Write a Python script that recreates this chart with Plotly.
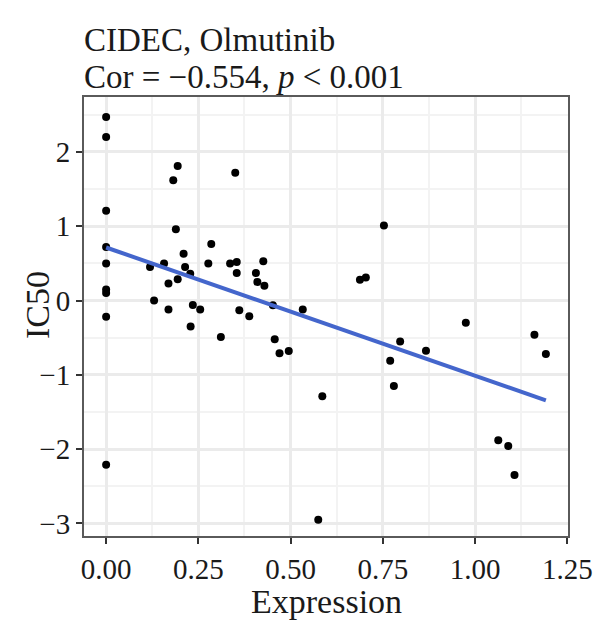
import numpy as np
import plotly.graph_objects as go

# Expression values (x) and IC50 values (y)
expression = [0, 0, 0, 0, 0, 0, 0, 0, 0,
              0.119, 0.13, 0.157, 0.169, 0.169, 0.182, 0.189, 0.194, 0.194, 0.21,
              0.214, 0.228, 0.229, 0.235, 0.255, 0.277, 0.285, 0.311, 0.336, 0.350,
              0.354, 0.354, 0.361, 0.388, 0.406, 0.41, 0.426, 0.429, 0.452, 0.457,
              0.47, 0.495, 0.533, 0.575, 0.586, 0.688, 0.704, 0.753, 0.77, 0.78,
              0.797, 0.867, 0.975, 1.063, 1.09, 1.107, 1.161, 1.192]
ic50 = [2.47, 2.20, 1.21, 0.72, 0.50, 0.15, 0.10, -0.22, -2.21,
        0.45, 0.00, 0.50, 0.23, -0.12, 1.62, 0.96, 1.81, 0.285, 0.63,
        0.45, 0.36, -0.35, -0.06, -0.12, 0.50, 0.76, -0.49, 0.50, 1.72,
        0.52, 0.37, -0.13, -0.21, 0.37, 0.25, 0.53, 0.20, -0.065, -0.52,
        -0.71, -0.68, -0.12, -2.95, -1.29, 0.28, 0.31, 1.01, -0.81, -1.15,
        -0.55, -0.675, -0.30, -1.88, -1.96, -2.35, -0.46, -0.72]

x_ticks = [0, 0.25, 0.5, 0.75, 1.0, 1.25]
x_tick_labels = ["0.00", "0.25", "0.50", "0.75", "1.00", "1.25"]
y_ticks = [-3, -2, -1, 0, 1, 2]
y_tick_labels = ["\u22123", "\u22122", "\u22121", "0", "1", "2"]

title_line1 = "CIDEC, Olmutinib"
title_line2 = "Cor = \u22120.554, <i>p</i> < 0.001"
x_title = "Expression"
y_title = "IC50"

x = np.array(expression)
y = np.array(ic50)
slope, intercept = np.polyfit(x, y, 1)
xl = np.array([x.min(), x.max()])
yl = intercept + slope * xl

FONT = "Liberation Serif"
TXT = "#1a1a1a"

fig = go.Figure()
fig.add_trace(go.Scatter(x=expression, y=ic50, mode="markers",
                         marker=dict(color="black", size=8),
                         showlegend=False))
fig.add_trace(go.Scatter(x=xl, y=yl, mode="lines",
                         line=dict(color="#4466CC", width=4),
                         showlegend=False))

axis_common = dict(
    showgrid=True, gridcolor="#ebebeb", gridwidth=2.5,
    zeroline=False, showline=True, mirror=True,
    linecolor="#5a5a5a", linewidth=2,
    ticks="outside", ticklen=6, tickwidth=2, tickcolor="#333333",
    tickfont=dict(family=FONT, size=29, color=TXT),
    automargin=False,
)

fig.update_xaxes(**axis_common, range=[-0.06, 1.252],
                 tickvals=x_ticks, ticktext=x_tick_labels,
                 minor=dict(dtick=0.125, showgrid=True, gridcolor="#f3f3f3", gridwidth=1.5, ticks=""))
fig.update_yaxes(**axis_common, range=[-3.17, 2.74],
                 tickvals=y_ticks, ticktext=y_tick_labels,
                 minor=dict(dtick=0.5, showgrid=True, gridcolor="#f3f3f3", gridwidth=1.5, ticks=""))

PH = 439.0
def py2paper(py):
    return (536 - py) / PH

fig.add_annotation(text=title_line1, xref="paper", yref="paper", x=0, y=py2paper(40),
                   xanchor="left", yanchor="middle", showarrow=False, xshift=-2,
                   font=dict(family=FONT, size=33, color=TXT))
fig.add_annotation(text=title_line2, xref="paper", yref="paper", x=0, y=py2paper(77),
                   xanchor="left", yanchor="middle", showarrow=False, xshift=-2,
                   font=dict(family=FONT, size=33, color=TXT))
fig.add_annotation(text=x_title, xref="paper", yref="paper", x=0.5, y=py2paper(601),
                   xanchor="center", yanchor="middle", showarrow=False,
                   font=dict(family=FONT, size=34, color=TXT))
fig.add_annotation(text=y_title, xref="paper", yref="paper", x=0, y=py2paper(305), xshift=-47,
                   textangle=-90, xanchor="center", yanchor="middle", showarrow=False,
                   font=dict(family=FONT, size=34, color=TXT))

fig.update_layout(width=600, height=639,
                  margin=dict(l=84, r=32, t=97, b=103),
                  plot_bgcolor="white", paper_bgcolor="white")

fig.write_html("out.html")
